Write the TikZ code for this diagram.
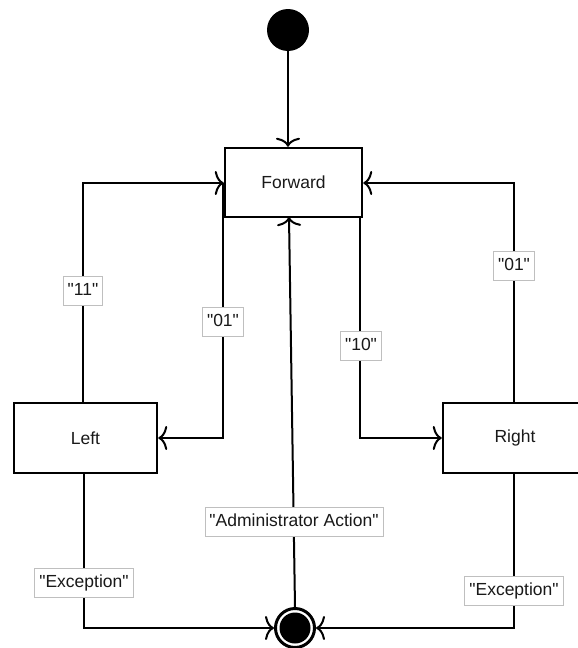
\documentclass[tikz,border=0pt]{standalone}
\usepackage{fontspec}
\newfontfamily\uifont{Liberation Sans}
\usetikzlibrary{arrows.meta}
\begin{document}
\begin{tikzpicture}[x=1pt,y=-1pt,
  every node/.style={font=\uifont\fontsize{17.5}{20}\selectfont,text=black!90},
  state/.style={draw,line width=2.5pt,minimum width=#1,minimum height=70pt,inner sep=0pt},
  state/.default=143pt,
  tip/.style={-{To[length=9pt,width=24pt,line width=2pt]}},
  conn/.style={line width=2.5pt,tip},
  guard/.style={fill=white,draw=black!25,line width=0.8pt,text height=12.5pt,text depth=4pt,inner xsep=4.5pt,inner ysep=6.5pt}]
  \useasboundingbox (0,0) rectangle (578,648);

  % pseudo-states
  \node[circle,fill=black,minimum size=42pt,inner sep=0pt] (init) at (288,30) {};
  \node[circle,draw,line width=3pt,minimum size=39pt,inner sep=0pt] (final) at (295,628) {};
  \fill (final.center) circle (15.5pt);

  % states
  \node[state=137pt,minimum height=69pt] (fwd) at (293.5,182.5) {Forward};
  \node[state] (left) at (85.5,438) {Left};
  \node[state=144pt] (right) at (515,438) {Right};

  % bend points
  \coordinate (l1) at (83,183);
  \coordinate (l2) at (223,438);
  \coordinate (r1) at (360,438);
  \coordinate (r2) at (514,183);
  \coordinate (l3) at (84,628);
  \coordinate (r3) at (514,628);
  \coordinate (admin) at (289,217);

  % transitions
  \draw[conn] (init) -- (fwd.north -| init);
  \draw[conn] (left.north -| l1) -- (l1) -- (fwd.west |- l1);
  \draw[conn] (fwd.west -| l2) |- (l2) -- (left.east |- l2);
  \draw[conn] (fwd.south -| r1) -- (r1) -- (right.west |- r1);
  \draw[conn] (right.north -| r2) -- (r2) -- (fwd.east |- r2);
  \draw[conn] (left.south -| l3) -- (l3) -- (final.west);
  \draw[conn] (right.south -| r3) -- (r3) -- (final.east);
  \draw[line width=2pt,tip] (final.north) -- (admin);

  % guard labels
  \node[guard] (g11) at (83,291) {"11"};
  \node[guard] (g01a) at (223,322) {"01"};
  \node[guard] (g10) at (361,346) {"10"};
  \node[guard] (g01b) at (514,266) {"01"};
  \node[guard] (gexl) at (84,583) {"Exception"};
  \node[guard] (gexr) at (514,591) {"Exception"};
  \node[guard] (gadm) at (294,522) {"Administrator Action"};
\end{tikzpicture}
\end{document}
